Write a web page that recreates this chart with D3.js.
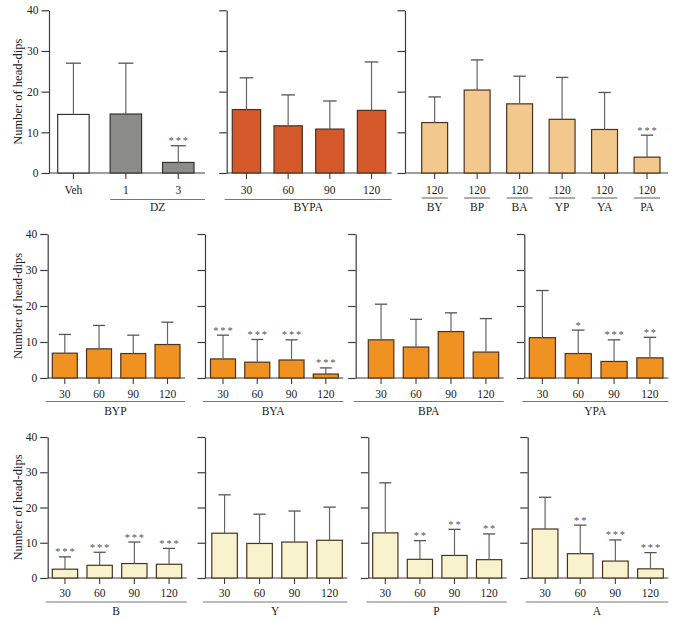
<!DOCTYPE html>
<html>
<head>
<meta charset="utf-8">
<script src="https://cdn.jsdelivr.net/npm/d3@7"></script>
<style>
  body { margin: 0; background: #fff; }
  text { font-family: "Liberation Serif", "DejaVu Serif", serif; }
</style>
</head>
<body>
<div id="chart"></div>
<script>
// values (mean and SD of head-dips)
const doses = ["30", "60", "90", "120"];
const yTicks = [0, 10, 20, 30, 40];

const ctrlLabels = ["Veh", "1", "3"];
const ctrlMeans = [14.4, 14.5, 2.6];
const ctrlSd = [12.6, 12.5, 4.1];
const ctrlStars = ["", "", "***"];

const bypaMeans = [15.6, 11.6, 10.8, 15.4];
const bypaSd = [7.8, 7.6, 6.9, 11.9];

const pairLabels = ["BY", "BP", "BA", "YP", "YA", "PA"];
const pairDose = ["120", "120", "120", "120", "120", "120"];
const pairMeans = [12.4, 20.4, 17.0, 13.2, 10.7, 3.9];
const pairSd = [6.3, 7.4, 6.8, 10.3, 9.1, 5.4];
const pairStars = ["", "", "", "", "", "***"];

const bypMeans = [6.9, 8.1, 6.8, 9.3];
const bypSd = [5.2, 6.5, 5.1, 6.2];
const byaMeans = [5.3, 4.4, 5.0, 1.1];
const byaSd = [6.6, 6.3, 5.6, 1.7];
const byaStars = ["***", "***", "***", "***"];
const bpaMeans = [10.6, 8.6, 12.9, 7.2];
const bpaSd = [9.9, 7.7, 5.2, 9.3];
const ypaMeans = [11.2, 6.8, 4.6, 5.6];
const ypaSd = [13.1, 6.5, 6.0, 5.7];
const ypaStars = ["", "*", "***", "**"];

const bMeans = [2.5, 3.6, 4.1, 3.9];
const bSd = [3.5, 3.7, 6.1, 4.5];
const bStars = ["***", "***", "***", "***"];
const yMeans = [12.7, 9.8, 10.2, 10.7];
const ySd = [10.9, 8.3, 8.8, 9.4];
const pMeans = [12.8, 5.3, 6.4, 5.2];
const pSd = [14.2, 5.3, 7.4, 7.3];
const pStars = ["", "**", "**", "**"];
const aMeans = [13.9, 6.9, 4.8, 2.6];
const aSd = [9.0, 8.1, 6.0, 4.6];
const aStars = ["", "**", "***", "***"];

const noStars = ["", "", "", ""];

const rows = [
  { y0: 173, y40: 10.3, lab: 17, lineY: 199.5, groupY: 206.5 },
  { y0: 378, y40: 234, lab: 16, lineY: 401.5, groupY: 410.5 },
  { y0: 578, y40: 437, lab: 15.5, lineY: 602, groupY: 610.5 }
];

const cRed = "#d5582b", cPeach = "#f2c88c", cOrange = "#ef9222", cCream = "#f8f3cc";

const panels = [
  { row: 0, ax: 49, end: 205, x0: 57.7, x1: 194, pad: 0.4, first: true,
    cats: ctrlLabels, means: ctrlMeans, sd: ctrlSd, stars: ctrlStars,
    fills: ["#ffffff", "#8c8d8b", "#8c8d8b"], group: "DZ", groupFrom: 1 },
  { row: 0, ax: 226.7, end: 391.7, x0: 232.3, x1: 385.7, pad: 0.32,
    cats: doses, means: bypaMeans, sd: bypaSd, stars: noStars, fill: cRed, group: "BYPA" },
  { row: 0, ax: 405, end: 668, x0: 421.7, x1: 660, pad: 0.39,
    cats: pairLabels, tickLabels: pairDose, means: pairMeans, sd: pairSd, stars: pairStars,
    fill: cPeach, perBar: true },
  { row: 1, ax: 47.7, end: 185, x0: 52.3, x1: 180, pad: 0.27, first: true,
    cats: doses, means: bypMeans, sd: bypSd, stars: noStars, fill: cOrange, group: "BYP" },
  { row: 1, ax: 205, end: 343.3, x0: 210.5, x1: 338.3, pad: 0.27,
    cats: doses, means: byaMeans, sd: byaSd, stars: byaStars, fill: cOrange, group: "BYA" },
  { row: 1, ax: 355.7, end: 503.7, x0: 368.3, x1: 498.7, pad: 0.27,
    cats: doses, means: bpaMeans, sd: bpaSd, stars: noStars, fill: cOrange, group: "BPA" },
  { row: 1, ax: 524.3, end: 668.3, x0: 529.3, x1: 663, pad: 0.27,
    cats: doses, means: ypaMeans, sd: ypaSd, stars: ypaStars, fill: cOrange, group: "YPA" },
  { row: 2, ax: 47.7, end: 186.7, x0: 52.3, x1: 181.7, pad: 0.27, first: true,
    cats: doses, means: bMeans, sd: bSd, stars: bStars, fill: cCream, group: "B" },
  { row: 2, ax: 205, end: 347.3, x0: 211.8, x1: 342.3, pad: 0.27,
    cats: doses, means: yMeans, sd: ySd, stars: noStars, fill: cCream, group: "Y" },
  { row: 2, ax: 368.3, end: 506.7, x0: 372.7, x1: 501.7, pad: 0.27,
    cats: doses, means: pMeans, sd: pSd, stars: pStars, fill: cCream, group: "P" },
  { row: 2, ax: 527.7, end: 668.3, x0: 532.3, x1: 663.3, pad: 0.27,
    cats: doses, means: aMeans, sd: aSd, stars: aStars, fill: cCream, group: "A" }
];

const svg = d3.select("#chart").append("svg")
  .attr("width", 675)
  .attr("height", 620)
  .style("background", "white");

const axisColor = "#3c3c3c";

panels.forEach(p => {
  const r = rows[p.row];
  const y = d3.scaleLinear().domain([0, 40]).range([r.y0, r.y40]);
  const x = d3.scaleBand().domain(p.cats).range([p.x0, p.x1]).paddingInner(p.pad).paddingOuter(0);
  const bw = x.bandwidth();
  const g = svg.append("g");

  // y axis
  const yAxis = d3.axisLeft(y).tickValues(yTicks).tickSize(7.5).tickSizeOuter(0)
    .tickFormat(p.first ? d3.format("d") : "");
  const ya = g.append("g").attr("transform", "translate(" + p.ax + ",0)").call(yAxis);
  ya.selectAll("path, line").attr("stroke", axisColor).attr("stroke-width", 1.2);
  ya.selectAll("text").attr("font-size", 11.5).attr("fill", "#222")
    .attr("font-family", "Liberation Serif, serif");

  if (p.first) {
    g.append("text")
      .attr("transform", "rotate(-90)")
      .attr("x", -(r.y0 + r.y40) / 2)
      .attr("y", 22)
      .attr("text-anchor", "middle")
      .attr("font-size", 12.5)
      .attr("fill", "#222")
      .text("Number of head-dips");
  }

  // baseline
  g.append("line")
    .attr("x1", p.ax).attr("x2", p.end)
    .attr("y1", y(0)).attr("y2", y(0))
    .attr("stroke", axisColor).attr("stroke-width", 1.2);

  // x ticks and labels
  const labels = p.tickLabels || p.cats;
  const xAxis = d3.axisBottom(x).tickSize(6).tickSizeOuter(0).tickPadding(r.lab - 10.5)
    .tickFormat((d, i) => labels[i]);
  const xa = g.append("g").attr("transform", "translate(0," + y(0) + ")").call(xAxis);
  xa.select(".domain").remove();
  xa.selectAll("line").attr("stroke", axisColor).attr("stroke-width", 1.1);
  xa.selectAll("text").attr("font-size", 11.5).attr("fill", "#222")
    .attr("font-family", "Liberation Serif, serif");

  // bars
  g.selectAll("rect.bar")
    .data(p.means)
    .enter()
    .append("rect")
    .attr("class", "bar")
    .attr("x", (d, i) => x(p.cats[i]))
    .attr("y", d => y(d))
    .attr("width", bw)
    .attr("height", d => y(0) - y(d))
    .attr("fill", (d, i) => p.fills ? p.fills[i] : p.fill)
    .attr("stroke", (d, i) => p.fills ? "#333" : "#4a3220")
    .attr("stroke-width", 1.2);

  // error bars
  const capW = bw * 0.48;
  p.means.forEach((m, i) => {
    const cx = x(p.cats[i]) + bw / 2;
    const top = y(m + p.sd[i]);
    g.append("line")
      .attr("x1", cx).attr("x2", cx)
      .attr("y1", y(m)).attr("y2", top)
      .attr("stroke", "#666").attr("stroke-width", 1.2);
    g.append("line")
      .attr("x1", cx - capW / 2).attr("x2", cx + capW / 2)
      .attr("y1", top).attr("y2", top)
      .attr("stroke", "#555").attr("stroke-width", 1.3);
    if (p.stars[i]) {
      g.append("text")
        .attr("x", cx + 0.9)
        .attr("y", top - 1.5)
        .attr("text-anchor", "middle")
        .attr("font-size", 10.5)
        .attr("letter-spacing", 1.8)
        .attr("fill", "#555")
        .text(p.stars[i]);
    }
  });

  // group underline and label
  if (p.perBar) {
    p.cats.forEach(c => {
      g.append("line")
        .attr("x1", x(c)).attr("x2", x(c) + bw)
        .attr("y1", r.lineY - 1.5).attr("y2", r.lineY - 1.5)
        .attr("stroke", "#777").attr("stroke-width", 1.2);
      g.append("text")
        .attr("x", x(c) + bw / 2)
        .attr("y", r.groupY + 4)
        .attr("text-anchor", "middle")
        .attr("font-size", 11.5)
        .attr("fill", "#222")
        .text(c);
    });
  } else {
    const from = p.groupFrom ? x(p.cats[p.groupFrom]) : p.ax - 2;
    g.append("line")
      .attr("x1", from).attr("x2", p.end)
      .attr("y1", r.lineY).attr("y2", r.lineY)
      .attr("stroke", "#777").attr("stroke-width", 1.2);
    g.append("text")
      .attr("x", (from + p.end) / 2)
      .attr("y", r.groupY + 4)
      .attr("text-anchor", "middle")
      .attr("font-size", 11.5)
      .attr("fill", "#222")
      .text(p.group);
  }
});
</script>
</body>
</html>
